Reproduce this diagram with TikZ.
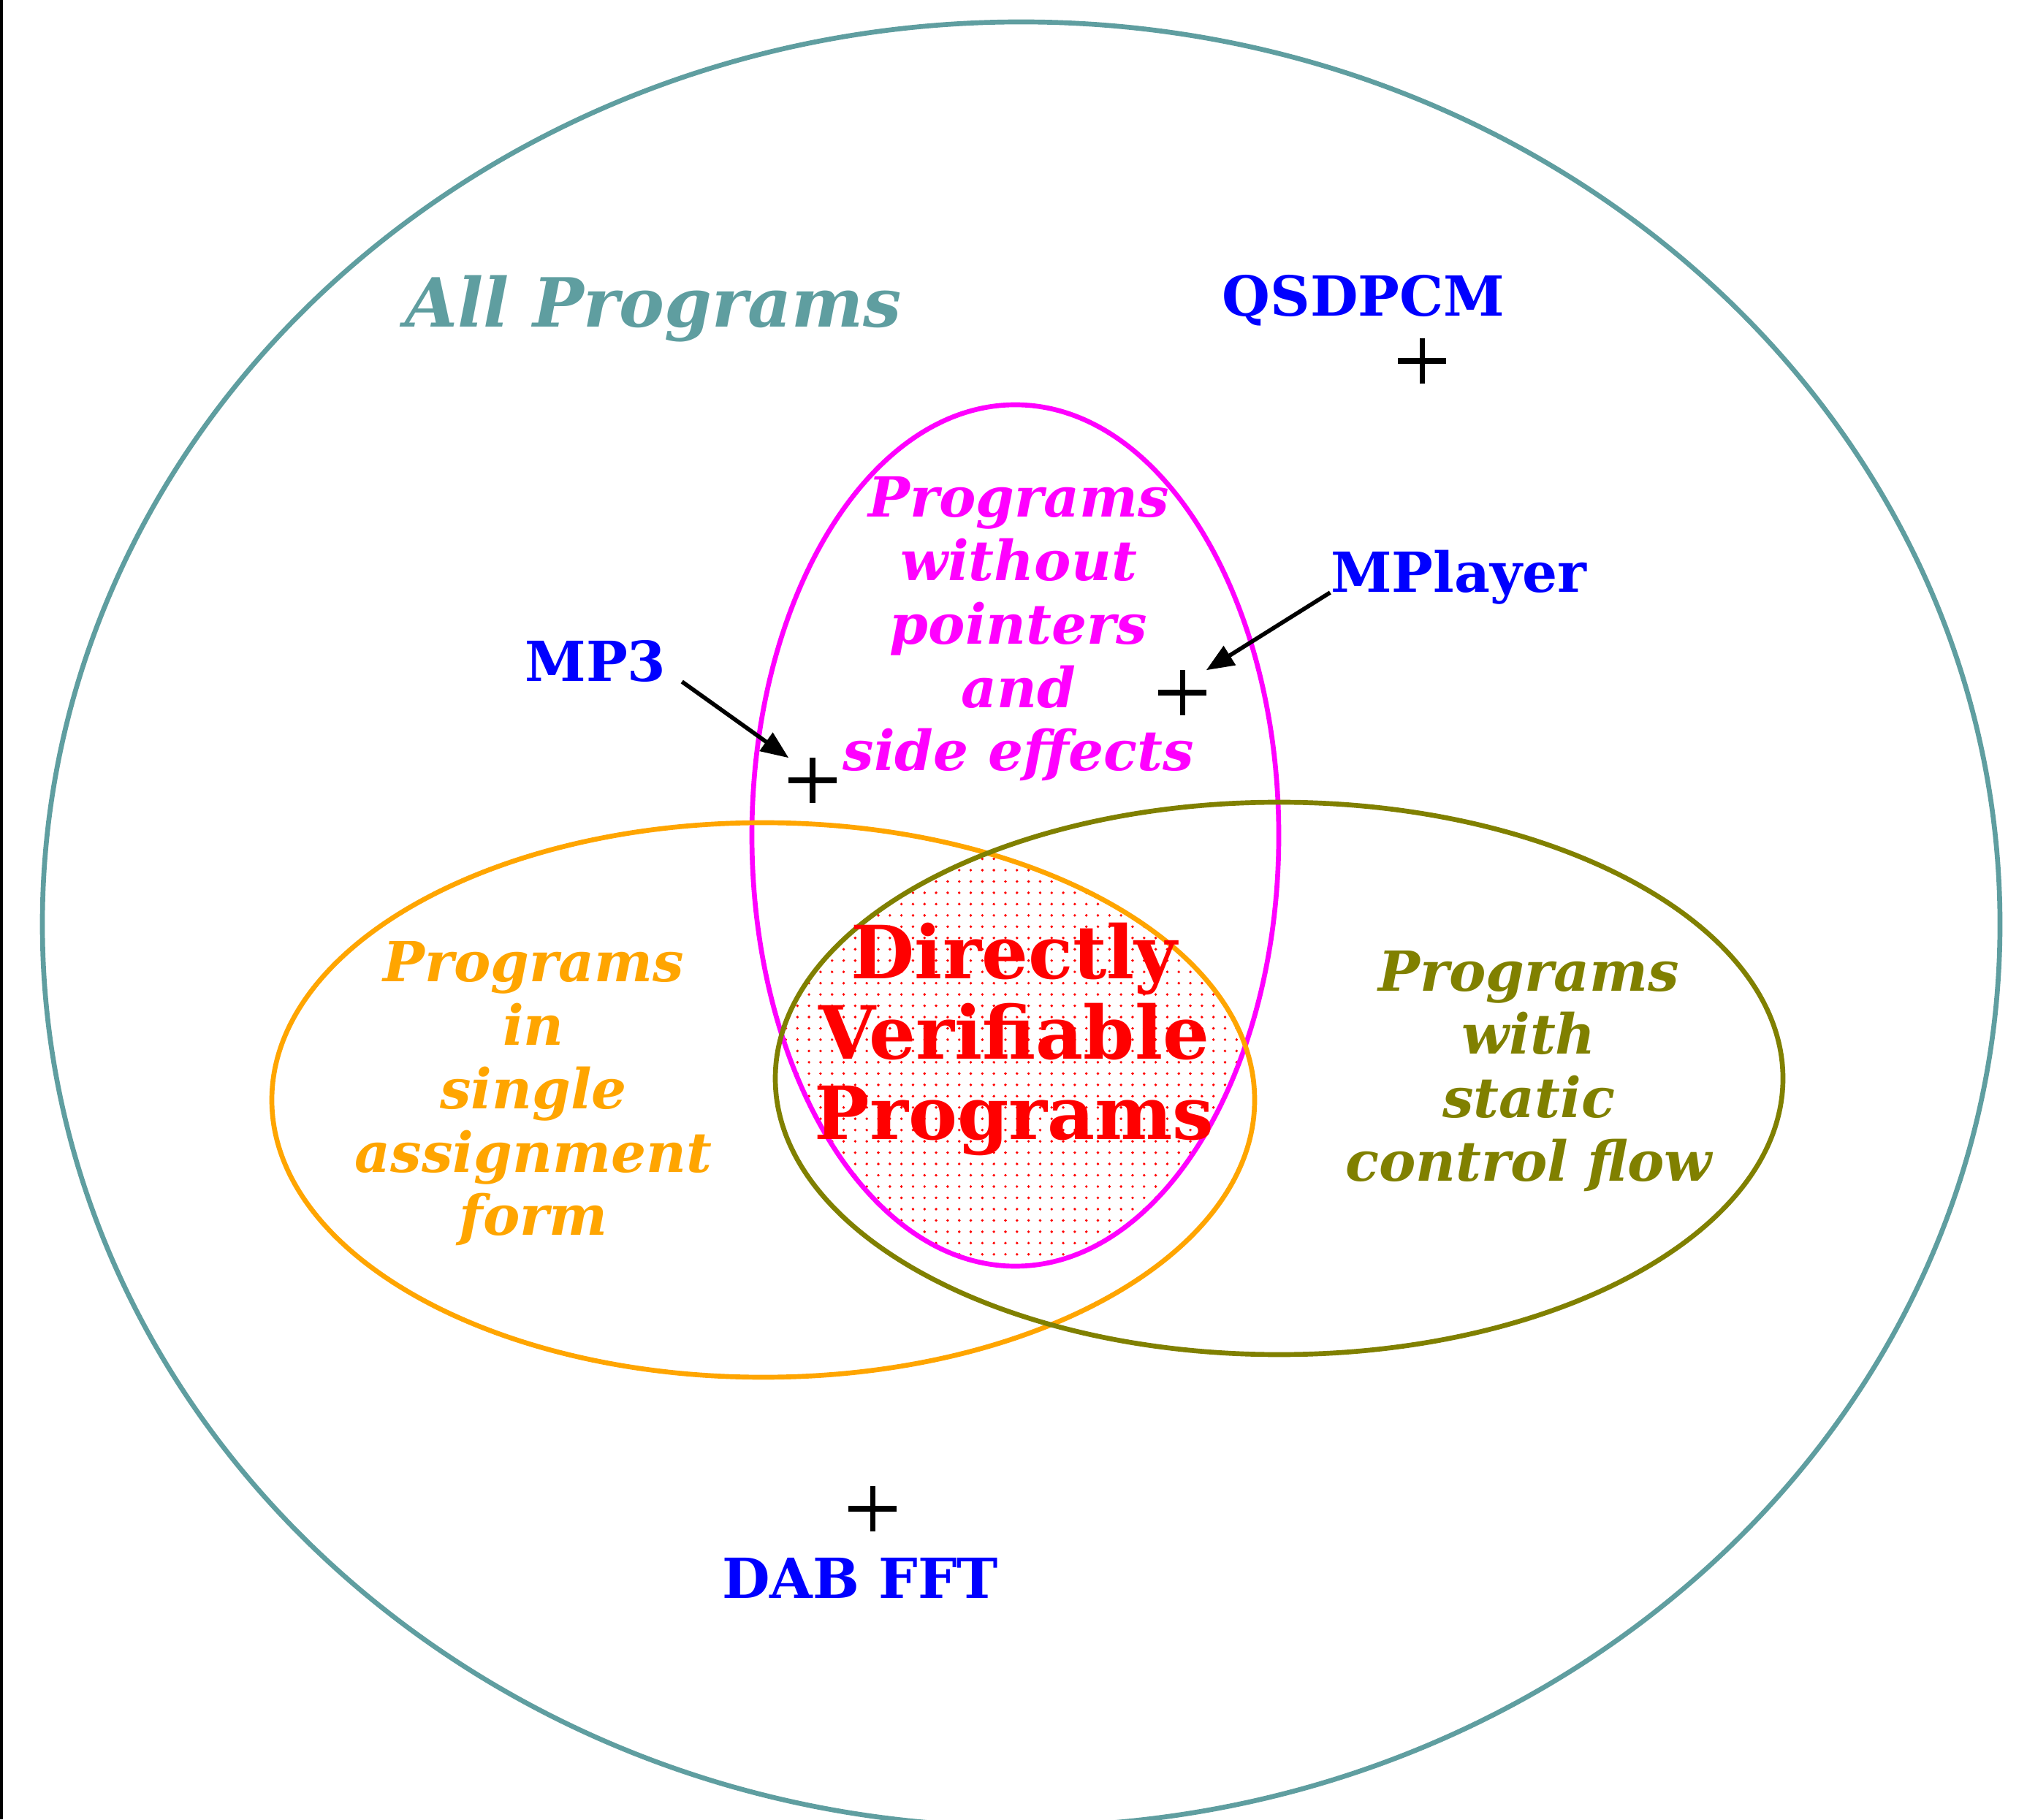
\documentclass[tikz,border=0pt]{standalone}
\usepackage{fontspec}
\setmainfont{DejaVu Serif}
\usepackage{xcolor}
\usepackage{tikz}
\usetikzlibrary{patterns.meta, arrows.meta}
\definecolor{allcol}{RGB}{95, 158, 160}
\definecolor{nopcol}{RGB}{255, 0, 255}
\definecolor{sacol}{RGB}{255, 165, 0}
\definecolor{sfcol}{RGB}{128, 128, 0}
\newcommand{\setfont}[2]{\fontsize{#1}{#2}\selectfont\bfseries\itshape}
\newcommand{\uprfont}[2]{\fontsize{#1}{#2}\selectfont\bfseries}
\tikzdeclarepattern{
    name=vdots,
    type=uncolored,
    bounding box={(-1pt,-1pt) and (1pt,1pt)},
    tile size={(4.5pt,4.4pt)},
    code={\fill (0pt,0pt) circle (0.55pt);}
}

\begin{document}
\begin{tikzpicture}[
    setline/.style={line width=1.9pt},
    setlabel/.style={font=\setfont{21.5}{24.7}, align=center, inner sep=0pt},
    bench/.style={font=\uprfont{21.5}{25}, text=blue, inner sep=0pt, anchor=base},
    plusmark/.style={minimum width=0.64cm, minimum height=0.6cm, inner sep=0pt},
    >={Triangle[length=0.38cm, width=0.3cm]}
]
    \useasboundingbox (0,0) rectangle (27.74,24.90);
    \draw[line width=1.2pt] (0.02,0) -- (0.02,24.90);

    % Dotted intersection
    \begin{scope}
        \clip (13.895,13.465) ellipse (3.605 and 5.895);
        \clip (10.445,9.845) ellipse (6.725 and 3.795);
        \fill[pattern=vdots, pattern color=red] (17.505,10.14) ellipse (6.895 and 3.78);
    \end{scope}

    % Sets
    \draw[setline, allcol] (13.975,12.25) ellipse (13.395 and 12.35);
    \draw[setline, nopcol] (13.895,13.465) ellipse (3.605 and 5.895);
    \draw[setline, sacol] (10.445,9.845) ellipse (6.725 and 3.795);
    \draw[setline, sfcol] (17.505,10.14) ellipse (6.895 and 3.78);

    % Set labels
    \node[setlabel, anchor=base, font=\setfont{26.4}{31}, text=allcol] (all) at (8.94,20.42) {All Programs};
    \node[setlabel, text=nopcol] (nop) at (13.94,16.29) {Programs\\without\\pointers\\and\\side effects};
    \node[setlabel, text=sacol] (sa) at (7.30,9.93) {Programs\\in\\single\\assignment\\form};
    \node[setlabel, text=sfcol] (sf) at (20.92,10.24) {Programs\\with\\static\\control flow};
    \node[align=center, inner sep=0pt, text=red, font=\uprfont{28.6}{31.3}] (dv) at (13.88,10.68) {Directly\\Verifiable\\Programs};

    % Benchmarks
    \node[plusmark] (qpt) at (19.46,19.96) {};
    \node[plusmark] (mplpt) at (16.18,15.42) {};
    \node[plusmark] (mp3pt) at (11.12,14.22) {};
    \node[plusmark] (dabpt) at (11.94,4.25) {};
    \foreach \p in {qpt, mplpt, mp3pt, dabpt}
        \draw[line width=2pt] (\p.north) -- (\p.south) (\p.west) -- (\p.east);

    \node[bench] (qlbl) at (18.66,20.57) {QSDPCM};
    \node[bench] (mpllbl) at (19.96,16.79) {MPlayer};
    \node[bench] (mp3lbl) at (8.15,15.57) {MP3};
    \node[bench] (dablbl) at (11.77,3.03) {DAB FFT};

    \draw[->, line width=1.6pt] ([xshift=6pt]mp3lbl.base east) -- (mp3pt.north west);
    \draw[->, line width=1.6pt] (mpllbl.base west) -- (mplpt.north east);
\end{tikzpicture}
\end{document}
